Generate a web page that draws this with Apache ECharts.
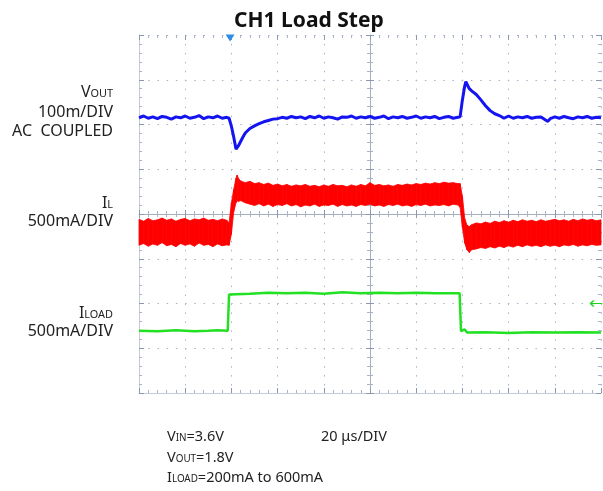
<!DOCTYPE html>
<html>
<head>
<meta charset="utf-8">
<script src="https://cdn.jsdelivr.net/npm/echarts@6/dist/echarts.min.js"></script>
<style>
  html, body { margin: 0; padding: 0; background: #fff; }
  #scope { width: 603px; height: 491px; }
</style>
</head>
<body>
<div id="scope"></div>
<script>
// time axis in us (20us/DIV, 10 DIV), vertical axis in divisions (8 DIV)
var timeTicks = [-100, 100, 20];
var divTicks = [-4, 4, 1];

// VOUT trace (AC coupled), [time us, div]
var voutTrace = [
  [-100, 2.15], [-98, 2.19], [-96, 2.14], [-94, 2.17], [-92, 2.13], [-90, 2.18], [-88, 2.16], [-86, 2.12],
  [-84, 2.17], [-82, 2.15], [-80, 2.19], [-78, 2.14], [-76, 2.16], [-74, 2.20], [-72, 2.13], [-70, 2.17],
  [-68, 2.15], [-66, 2.19], [-64, 2.14], [-62, 2.16],
  [-61, 2.14], [-60, 1.96], [-59, 1.72], [-58, 1.45], [-57, 1.52], [-56, 1.62], [-55, 1.72], [-54, 1.81],
  [-52, 1.91], [-50, 1.97], [-48, 2.02], [-46, 2.06], [-44, 2.09], [-42, 2.12], [-40, 2.13], [-38, 2.16],
  [-36, 2.14], [-34, 2.18], [-32, 2.15], [-30, 2.17], [-28, 2.13], [-26, 2.18], [-24, 2.15], [-22, 2.19],
  [-20, 2.14], [-18, 2.17], [-16, 2.15], [-14, 2.12], [-12, 2.17], [-10, 2.16], [-8, 2.19], [-6, 2.14],
  [-4, 2.17], [-2, 2.15], [0, 2.18], [2, 2.14], [4, 2.16], [6, 2.19], [8, 2.13], [10, 2.17], [12, 2.15],
  [14, 2.18], [16, 2.14], [18, 2.16], [20, 2.19], [22, 2.14], [24, 2.17], [26, 2.15], [28, 2.18], [30, 2.13],
  [32, 2.16], [34, 2.18], [36, 2.14], [38, 2.16],
  [39, 2.17], [40, 2.55], [41, 2.86], [41.5, 2.96], [42, 2.90], [43, 2.80], [44, 2.75], [46, 2.67],
  [48, 2.55], [50, 2.42], [52, 2.31], [54, 2.24], [56, 2.20], [58, 2.14], [60, 2.19], [62, 2.14],
  [64, 2.17], [66, 2.15], [68, 2.18], [70, 2.14], [72, 2.16], [74, 2.17], [76, 2.10], [77, 2.07],
  [78, 2.13], [80, 2.17], [82, 2.14], [84, 2.18], [86, 2.15], [88, 2.13], [90, 2.17], [92, 2.15],
  [94, 2.18], [96, 2.14], [98, 2.16], [100, 2.15]
];

// IL ripple band, [time us, lower edge div, upper edge div]
var ilBand = [
  [-100, -0.70, -0.12], [-98, -0.66, -0.16], [-96, -0.72, -0.10], [-94, -0.67, -0.15], [-92, -0.70, -0.13],
  [-90, -0.64, -0.09], [-88, -0.71, -0.14], [-86, -0.68, -0.11], [-84, -0.73, -0.16], [-82, -0.66, -0.12],
  [-80, -0.70, -0.10], [-78, -0.67, -0.15], [-76, -0.72, -0.11], [-74, -0.65, -0.13], [-72, -0.70, -0.09],
  [-70, -0.68, -0.14], [-68, -0.73, -0.12], [-66, -0.67, -0.15], [-64, -0.71, -0.11], [-62, -0.69, -0.14],
  [-61, -0.70, -0.20], [-60, -0.45, 0.25], [-59, 0.05, 0.55], [-58, 0.25, 0.80], [-57.5, 0.30, 0.87],
  [-57, 0.28, 0.80], [-56, 0.30, 0.74], [-54, 0.25, 0.70], [-52, 0.22, 0.73],
  [-50, 0.19, 0.68], [-48, 0.23, 0.70], [-46, 0.18, 0.66], [-44, 0.22, 0.69], [-42, 0.17, 0.64],
  [-40, 0.21, 0.67], [-38, 0.19, 0.63], [-36, 0.23, 0.66], [-34, 0.18, 0.62], [-32, 0.21, 0.65],
  [-30, 0.16, 0.63], [-28, 0.20, 0.66], [-26, 0.18, 0.62], [-24, 0.22, 0.64], [-22, 0.17, 0.61],
  [-20, 0.20, 0.65], [-18, 0.19, 0.62], [-16, 0.22, 0.66], [-14, 0.17, 0.63], [-12, 0.21, 0.64],
  [-10, 0.18, 0.61], [-8, 0.20, 0.65], [-6, 0.17, 0.62], [-4, 0.21, 0.66], [-2, 0.19, 0.63],
  [0, 0.22, 0.70], [2, 0.18, 0.64], [4, 0.20, 0.66], [6, 0.17, 0.63], [8, 0.21, 0.65],
  [10, 0.19, 0.62], [12, 0.22, 0.66], [14, 0.18, 0.64], [16, 0.20, 0.67], [18, 0.17, 0.65],
  [20, 0.21, 0.68], [22, 0.19, 0.66], [24, 0.22, 0.69], [26, 0.18, 0.67], [28, 0.20, 0.70],
  [30, 0.19, 0.68], [32, 0.21, 0.71], [34, 0.18, 0.69], [36, 0.22, 0.70], [38, 0.20, 0.68],
  [39, 0.15, 0.68], [40, -0.30, 0.40], [41, -0.65, -0.10], [42, -0.80, -0.25], [43, -0.86, -0.28],
  [44, -0.80, -0.24], [46, -0.78, -0.20], [48, -0.75, -0.22],
  [50, -0.77, -0.18], [52, -0.73, -0.21], [54, -0.76, -0.16], [56, -0.72, -0.19], [58, -0.75, -0.15],
  [60, -0.71, -0.18], [62, -0.74, -0.14], [64, -0.70, -0.17], [66, -0.73, -0.13], [68, -0.69, -0.16],
  [70, -0.72, -0.14], [72, -0.70, -0.17], [74, -0.73, -0.13], [76, -0.69, -0.16], [78, -0.72, -0.14],
  [80, -0.70, -0.12], [82, -0.73, -0.15], [84, -0.69, -0.13], [86, -0.71, -0.16], [88, -0.68, -0.12],
  [90, -0.72, -0.15], [92, -0.69, -0.11], [94, -0.71, -0.14], [96, -0.68, -0.12], [98, -0.70, -0.15],
  [100, -0.69, -0.13]
];

// ILOAD trace, [time us, div]
var iloadTrace = [
  [-100, -2.61], [-92, -2.62], [-84, -2.60], [-76, -2.62], [-70, -2.61], [-66, -2.60], [-61.6, -2.61],
  [-61, -1.80], [-60.5, -1.77], [-52, -1.78], [-44, -1.76], [-36, -1.77], [-28, -1.76], [-20, -1.78],
  [-12, -1.75], [-4, -1.77], [4, -1.76], [12, -1.77], [20, -1.76], [28, -1.77], [38.8, -1.77],
  [39.4, -2.62], [40, -2.65], [41, -2.58], [42, -2.65], [50, -2.64], [60, -2.66], [70, -2.64],
  [80, -2.65], [90, -2.64], [100, -2.65]
];

var triggerTime = -61;
var iloadGround = -2;

var FONT = "Noto Sans";
var tickColor = "#8c98b0";
var minorColor = "#a9b3c6";

// band segments: each item joins one sample of the ripple envelope to the next
var ilSegments = [];
for (var i = 0; i < ilBand.length - 1; i++) {
  ilSegments.push(ilBand[i].concat(ilBand[i + 1]));
}

function timeAxis(extra) {
  var a = {
    type: "value", min: timeTicks[0], max: timeTicks[1], interval: timeTicks[2],
    axisLabel: { show: false },
    axisTick: { show: true, length: 5, lineStyle: { color: tickColor } },
    minorTick: { show: true, splitNumber: 5, length: 3, lineStyle: { color: minorColor } },
    splitLine: { show: false }
  };
  return Object.assign(a, extra);
}
function divAxis(extra) {
  var a = {
    type: "value", min: divTicks[0], max: divTicks[1], interval: divTicks[2],
    axisLabel: { show: false },
    axisTick: { show: true, length: 5, lineStyle: { color: tickColor } },
    minorTick: { show: true, splitNumber: 5, length: 3, lineStyle: { color: minorColor } },
    splitLine: { show: false }
  };
  return Object.assign(a, extra);
}

function label(text, x, y, size, align) {
  return {
    type: "text", x: x, y: y, silent: true,
    style: {
      text: text, fill: "#222",
      fontFamily: FONT, fontSize: size,
      align: align, textAlign: align,
      verticalAlign: "middle", textVerticalAlign: "middle",
      rich: {
        b: { fontFamily: FONT, fontSize: size, fill: "#222", verticalAlign: "bottom" },
        s: { fontFamily: FONT, fontSize: size * 0.68, fill: "#222", verticalAlign: "bottom", padding: [0, 0, 1, 0] }
      }
    }
  };
}

var myChart = echarts.init(document.getElementById("scope"));

var option = {
  animation: false,
  backgroundColor: "#fff",
  title: {
    text: "CH1 Load Step",
    left: 229, top: 6,
    textStyle: { fontFamily: FONT, fontSize: 21, fontWeight: "bold", color: "#111" }
  },
  grid: { left: 139, top: 35, width: 462, height: 358 },
  xAxis: [
    timeAxis({
      position: "bottom",
      axisLine: { show: true, onZero: false, lineStyle: { color: "#c5ccd9" } },
      axisTick: { show: true, inside: true, length: 5, lineStyle: { color: tickColor } },
      splitLine: { show: true, lineStyle: { color: "#a8b3c8", width: 1, type: [1.5, 7.45] } }
    }),
    timeAxis({
      position: "top",
      axisLine: { show: false, onZero: false },
      axisTick: { show: true, inside: true, length: 5, lineStyle: { color: tickColor } }
    }),
    timeAxis({
      position: "bottom",
      axisLine: { show: true, onZero: true, onZeroAxisIndex: 0, lineStyle: { color: "#a3aec3" } },
      axisTick: { show: true, inside: true, length: 4, lineStyle: { color: tickColor } }
    }),
    timeAxis({
      position: "bottom",
      axisLine: { show: false, onZero: true, onZeroAxisIndex: 0 },
      axisTick: { show: true, inside: false, length: 4, lineStyle: { color: tickColor } }
    })
  ],
  yAxis: [
    divAxis({
      position: "left",
      axisLine: { show: true, onZero: false, lineStyle: { color: "#c5ccd9" } },
      axisTick: { show: true, inside: true, length: 5, lineStyle: { color: tickColor } },
      splitLine: { show: true, lineStyle: { color: "#a8b3c8", width: 1, type: [1.5, 7.72] } }
    }),
    divAxis({
      position: "right",
      axisLine: { show: false, onZero: false },
      axisTick: { show: true, inside: true, length: 5, lineStyle: { color: tickColor } }
    }),
    divAxis({
      position: "left",
      axisLine: { show: true, onZero: true, onZeroAxisIndex: 0, lineStyle: { color: "#a3aec3" } },
      axisTick: { show: true, inside: true, length: 4, lineStyle: { color: tickColor } }
    }),
    divAxis({
      position: "left",
      axisLine: { show: false, onZero: true, onZeroAxisIndex: 0 },
      axisTick: { show: true, inside: false, length: 4, lineStyle: { color: tickColor } }
    })
  ],
  graphic: [
    label("{b|V}{s|OUT}", 113, 92, 16, "right"),
    label("100m/DIV", 113, 112, 16, "right"),
    label("AC  COUPLED", 113, 131, 16, "right"),
    label("{b|I}{s|L}", 113, 203, 16, "right"),
    label("500mA/DIV", 113, 221, 16, "right"),
    label("{b|I}{s|LOAD}", 113, 313, 16, "right"),
    label("500mA/DIV", 113, 331, 16, "right"),
    label("{b|V}{s|IN}{b|=3.6V}", 167, 437, 14.5, "left"),
    label("20 \u03bcs/DIV", 321, 437, 14.5, "left"),
    label("{b|V}{s|OUT}{b|=1.8V}", 167, 458, 14.5, "left"),
    label("{b|I}{s|LOAD}{b|=200mA to 600mA}", 167, 478, 14.5, "left")
  ],
  series: [
    {
      name: "IL",
      type: "custom",
      xAxisIndex: 0, yAxisIndex: 0,
      renderItem: function (params, api) {
        var a0 = api.coord([api.value(0), api.value(1)]);
        var b0 = api.coord([api.value(0), api.value(2)]);
        var a1 = api.coord([api.value(3), api.value(4)]);
        var b1 = api.coord([api.value(3), api.value(5)]);
        return {
          type: "polygon",
          shape: { points: [a0, b0, b1, a1] },
          style: { fill: "#ff0000", stroke: "#ff0000", lineWidth: 0.8 }
        };
      },
      encode: { x: [0, 3], y: [1, 2, 4, 5] },
      data: ilSegments,
      z: 2
    },
    {
      name: "VOUT",
      type: "line",
      xAxisIndex: 0, yAxisIndex: 0,
      showSymbol: false, symbol: "none",
      lineStyle: { color: "#1414f0", width: 3 },
      data: voutTrace,
      z: 3,
      markPoint: {
        silent: true,
        label: { show: false },
        data: [{
          coord: [triggerTime, divTicks[1]],
          symbol: "triangle", symbolRotate: 180, symbolSize: [9, 7], symbolOffset: [1, 3],
          itemStyle: { color: "#2d8ee6" }
        }]
      }
    },
    {
      name: "ILOAD",
      type: "line",
      xAxisIndex: 0, yAxisIndex: 0,
      showSymbol: false, symbol: "none",
      lineStyle: { color: "#22e022", width: 2.5 },
      data: iloadTrace,
      z: 3,
      markPoint: {
        silent: true,
        label: { show: false },
        data: [{
          coord: [98, iloadGround],
          symbol: "path://M0,4 L14,4 M0,4 L4,1 M0,4 L4,7",
          symbolSize: [12, 6],
          itemStyle: { color: "none", borderColor: "#22d022", borderWidth: 1.3 }
        }]
      }
    }
  ]
};

myChart.setOption(option);
</script>
</body>
</html>
